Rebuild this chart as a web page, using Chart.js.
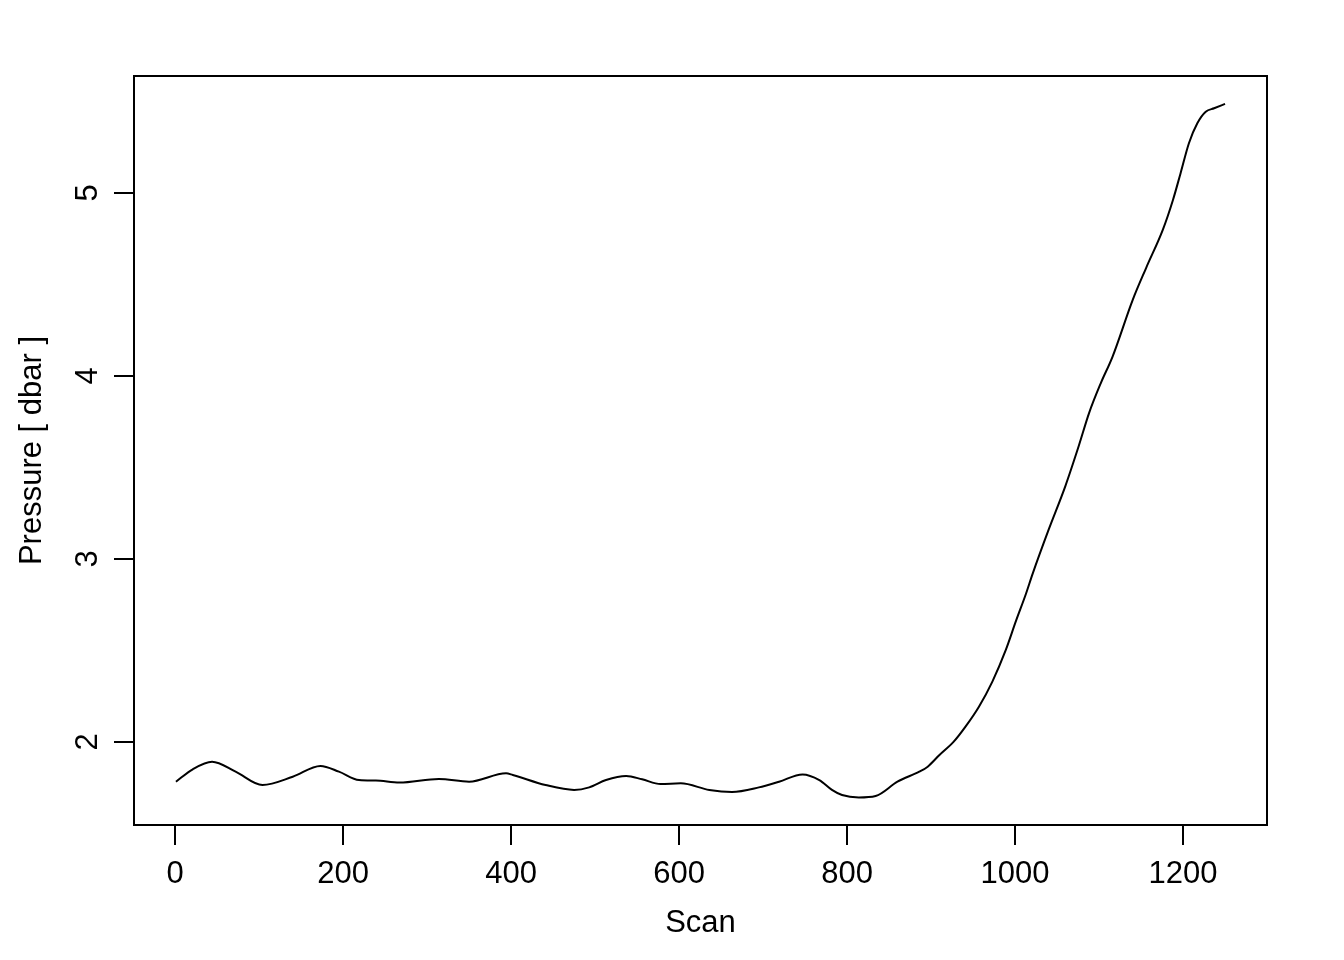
<!DOCTYPE html>
<html><head><meta charset="utf-8">
<script src="https://cdn.jsdelivr.net/npm/chart.js@4.4.1/dist/chart.umd.min.js"></script>
<style>html,body{margin:0;padding:0;background:#fff;} canvas{display:block;}</style>
</head><body>
<canvas id="c" width="1344" height="960"></canvas>
<script>
const scans = [1, 21, 44, 72, 104, 140, 173, 195, 219, 239, 267, 314, 350, 394, 402, 441, 475, 493, 513, 537, 556, 578, 602, 636, 663, 695, 719, 747, 767, 782, 794, 814, 834, 860, 886, 896, 910, 927, 941, 957, 973, 989, 1001, 1013, 1021, 1040, 1060, 1076, 1088, 1102, 1116, 1140, 1156, 1176, 1188, 1197, 1207, 1217, 1227, 1237, 1250];
const pressure = [1.783, 1.851, 1.892, 1.838, 1.765, 1.810, 1.869, 1.838, 1.792, 1.789, 1.778, 1.798, 1.783, 1.829, 1.820, 1.765, 1.738, 1.752, 1.792, 1.814, 1.796, 1.770, 1.774, 1.738, 1.727, 1.752, 1.783, 1.823, 1.792, 1.738, 1.710, 1.697, 1.705, 1.783, 1.838, 1.865, 1.929, 2.002, 2.084, 2.193, 2.330, 2.503, 2.660, 2.810, 2.920, 3.160, 3.400, 3.620, 3.796, 3.960, 4.105, 4.415, 4.590, 4.800, 4.962, 5.107, 5.272, 5.381, 5.444, 5.463, 5.487];
const xTicks = [0, 200, 400, 600, 800, 1000, 1200];
const yTicks = [2, 3, 4, 5];
const xLabel = 'Scan';
const yLabel = 'Pressure [ dbar ]';
const xRange = [-48.96, 1299.96];
const yRange = [1.5464, 5.6393];

const font = {family: '"Liberation Sans", Arial, Helvetica, sans-serif', size: 31};

const framePlugin = {
  id: 'frame',
  afterDraw(chart) {
    const {ctx, chartArea: a} = chart;
    ctx.save();
    ctx.strokeStyle = '#000';
    ctx.lineWidth = 2;
    ctx.strokeRect(a.left, a.top, a.right - a.left, a.bottom - a.top);
    ctx.restore();
  }
};

new Chart(document.getElementById('c'), {
  type: 'line',
  data: {
    datasets: [{
      data: scans.map((s, i) => ({x: s, y: pressure[i]})),
      borderColor: '#000',
      borderWidth: 2,
      pointRadius: 0,
      fill: false,
      cubicInterpolationMode: 'monotone'
    }]
  },
  options: {
    responsive: false,
    animation: false,
    devicePixelRatio: 1,
    layout: {padding: {top: 76, right: 77, left: 0, bottom: 0}},
    plugins: {legend: {display: false}, tooltip: {enabled: false}},
    scales: {
      x: {
        type: 'linear', position: 'bottom',
        min: xRange[0], max: xRange[1],
        afterBuildTicks: s => { s.ticks = xTicks.map(v => ({value: v})); },
        afterFit: s => { s.height = 135; },
        grid: {drawOnChartArea: false, drawTicks: true, tickLength: 20, color: '#000', lineWidth: 2},
        border: {display: false},
        ticks: {color: '#000', font: font, padding: 11, maxRotation: 0, minRotation: 0, autoSkip: false,
                callback: v => String(v)},
        title: {display: true, text: xLabel, color: '#000', font: font, padding: {top: 0, bottom: 18}}
      },
      y: {
        type: 'linear', position: 'left',
        min: yRange[0], max: yRange[1],
        afterBuildTicks: s => { s.ticks = yTicks.map(v => ({value: v})); },
        afterFit: s => { s.width = 134; },
        grid: {drawOnChartArea: false, drawTicks: true, tickLength: 20, color: '#000', lineWidth: 2},
        border: {display: false},
        ticks: {color: '#000', font: font, padding: 17, minRotation: 90, maxRotation: 90, crossAlign: 'center', autoSkip: false,
                callback: v => String(v)},
        title: {display: true, text: yLabel, color: '#000', font: font, padding: {top: 14, bottom: 0}}
      }
    }
  },
  plugins: [framePlugin]
});
</script>
</body></html>
